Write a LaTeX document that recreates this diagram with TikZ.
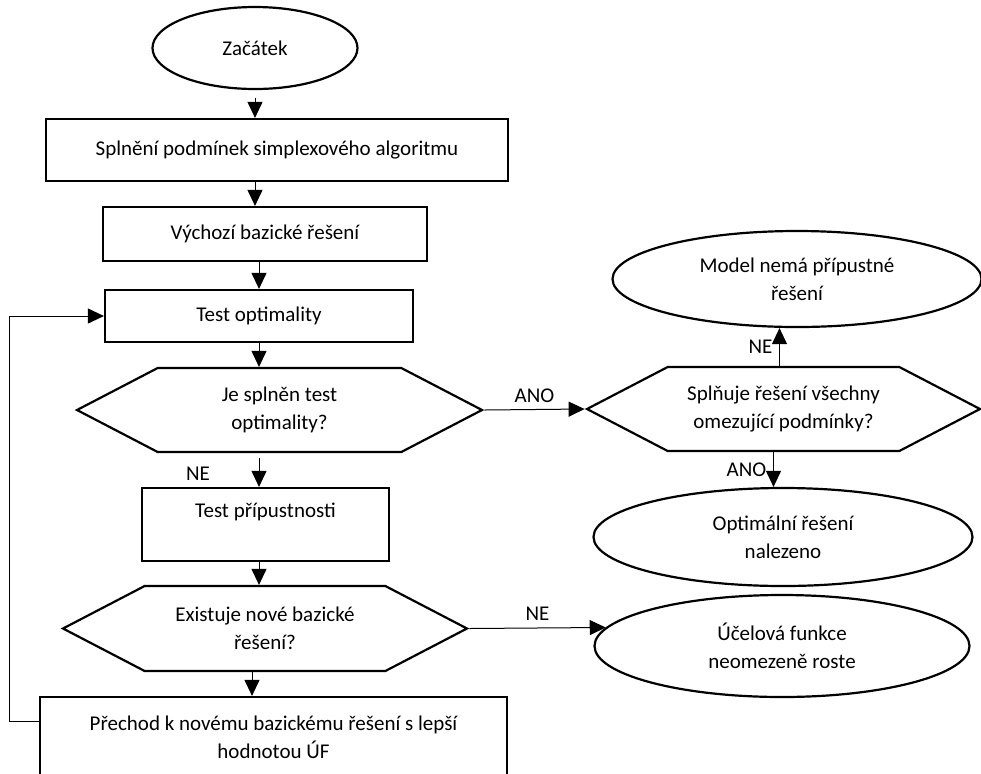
\documentclass[tikz,border=0pt]{standalone}
\usepackage{fontspec}
\setmainfont{Carlito}
\usetikzlibrary{arrows.meta, shapes.geometric, shapes.symbols}

\tikzset{
  startstop/.style={ellipse, draw, line width=1.1pt, align=center, inner sep=0pt},
  process/.style={rectangle, draw, line width=1.1pt, align=center, inner sep=0pt},
  decision/.style={signal, signal to=east and west, signal pointer angle=55,
    draw, line width=1.1pt, align=center, inner sep=0pt},
  arr/.style={-{Triangle[length=8pt, width=7.5pt]}, line width=0.5pt}
}

\begin{document}
\begin{tikzpicture}[x=0.5pt, y=-0.5pt, every node/.style={font=\fontsize{10.5}{14}\selectfont}]

\path[use as bounding box, clip] (0,0) rectangle (981,773);

% Hlavni vetev
\node[startstop, minimum width=102.5pt, minimum height=41pt] (start) at (255,48) {Začátek};
\node[process, minimum width=231pt, minimum height=31pt] (podm) at (277,150) {Splnění podmínek simplexového algoritmu};
\node[process, minimum width=162pt, minimum height=27pt] (vychozi) at (265,234) {Výchozí bazické řešení};
\node[process, minimum width=154pt, minimum height=26pt] (testopt) at (259,316) {Test optimality};
\node[decision, minimum width=202.5pt, minimum height=42pt] (jeopt) at (279.5,410) {Je splněn test\\optimality?};
\node[process, minimum width=123.5pt, minimum height=36.5pt] (testprip) at (265.5,524.5) {Test přípustnosti\\\mbox{}};
\node[decision, minimum width=202pt, minimum height=42.5pt] (novebaz) at (265,628.5) {Existuje nové bazické\\řešení?};
\node[process, minimum width=233.5pt, minimum height=40pt] (prechod) at (273.5,737) {Přechod k novému bazickému řešení s lepší\\hodnotou ÚF};

% Prava vetev
\node[decision, minimum width=196.5pt, minimum height=42pt] (splnuje) at (783.5,409) {Splňuje řešení všechny\\omezující podmínky?};
\node[startstop, minimum width=184.5pt, minimum height=48pt] (nepripust) at (797,279) {Model nemá přípustné\\řešení};
\node[startstop, minimum width=189.5pt, minimum height=49pt] (optimum) at (783,537) {Optimální řešení\\nalezeno};
\node[startstop, minimum width=187.5pt, minimum height=51pt] (neomez) at (782,646) {Účelová funkce\\neomezeně roste};

% Spojnice
\draw[arr, shorten <=4pt] (start.south) -- (start.south |- podm.north);
\draw[arr] (podm.south -| start.south) -- (vychozi.north -| start.south);
\draw[arr] (vychozi.south -| testopt.north) -- (testopt.north);
\draw[arr] (testopt.south) -- (testopt.south |- jeopt.north);
\draw[arr] ([yshift=-2.5pt]jeopt.south -| testopt.south) -- (testprip.north -| testopt.south)
    node[pos=0.55, left=21pt] {NE};
\draw[arr] (testprip.south -| testopt.south) -- (testopt.south |- novebaz.north);
\draw[arr] ([xshift=-6.5pt]novebaz.south) -- ([xshift=-6.5pt]novebaz.south |- prechod.north);
\draw[arr] ([yshift=8pt]prechod.west) -- ++(-29,0) |- (testopt.west);

\draw[arr] (jeopt.east) -- (splnuje.west) node[midway, above] {ANO};
\draw[arr] ([xshift=-2pt]splnuje.north) -- ([xshift=-2pt]splnuje.north |- nepripust.south)
    node[midway, left] {NE};
\draw[arr] ([xshift=-5pt]splnuje.south) -- ([xshift=-5pt]splnuje.south |- optimum.north)
    node[midway, left] {ANO};
\draw[arr] (novebaz.east) -- (neomez.174) node[midway, above] {NE};

\end{tikzpicture}
\end{document}
